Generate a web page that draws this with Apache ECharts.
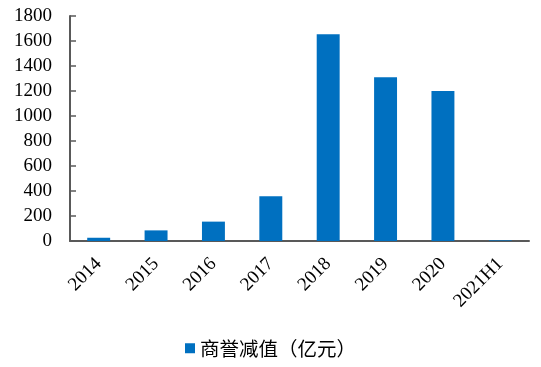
<!DOCTYPE html>
<html>
<head>
<meta charset="utf-8">
<script src="https://cdn.jsdelivr.net/npm/echarts@6/dist/echarts.min.js"></script>
<style>html,body{margin:0;padding:0;background:#fff}#c{width:541px;height:367px}</style>
</head>
<body>
<div id="c"></div>
<script>
var categories = ['2014','2015','2016','2017','2018','2019','2020','2021H1'];
var goodwillImpairment = [26, 85, 155, 358, 1655, 1310, 1200, 5];
var seriesName = '商誉减值（亿元）';
var yTicks = {min: 0, max: 1800, interval: 200};

var chart = echarts.init(document.getElementById('c'), null, {renderer: 'canvas'});
chart.setOption({
  animation: false,
  backgroundColor: '#ffffff',
  grid: {left: 70, right: 12, top: 16, bottom: 126, containLabel: false},
  legend: {
    data: [seriesName],
    bottom: 4,
    left: 'center',
    icon: 'rect',
    itemWidth: 10,
    itemHeight: 10,
    itemGap: 7,
    textStyle: {fontFamily: 'Noto Sans CJK SC', fontSize: 19.5, color: '#000'}
  },
  xAxis: {
    type: 'category',
    data: categories,
    boundaryGap: true,
    axisLine: {lineStyle: {color: '#595959', width: 2}},
    axisTick: {inside: true, length: 6, alignWithLabel: false, lineStyle: {color: '#000', width: 1.5}},
    axisLabel: {rotate: 45, margin: 20, fontFamily: 'Liberation Serif', fontSize: 19, color: '#000', interval: 0}
  },
  yAxis: {
    type: 'value',
    min: yTicks.min,
    max: yTicks.max,
    interval: yTicks.interval,
    axisLine: {show: true, lineStyle: {color: '#595959', width: 2}},
    axisTick: {show: true, inside: true, length: 6, lineStyle: {color: '#595959', width: 1.5}},
    splitLine: {show: false},
    axisLabel: {margin: 18, fontFamily: 'Liberation Serif', fontSize: 19, color: '#000', formatter: function (v) { return String(v); }}
  },
  series: [{
    name: seriesName,
    type: 'bar',
    data: goodwillImpairment,
    barWidth: '40%',
    itemStyle: {color: '#0070C0'}
  }]
});
</script>
</body>
</html>
